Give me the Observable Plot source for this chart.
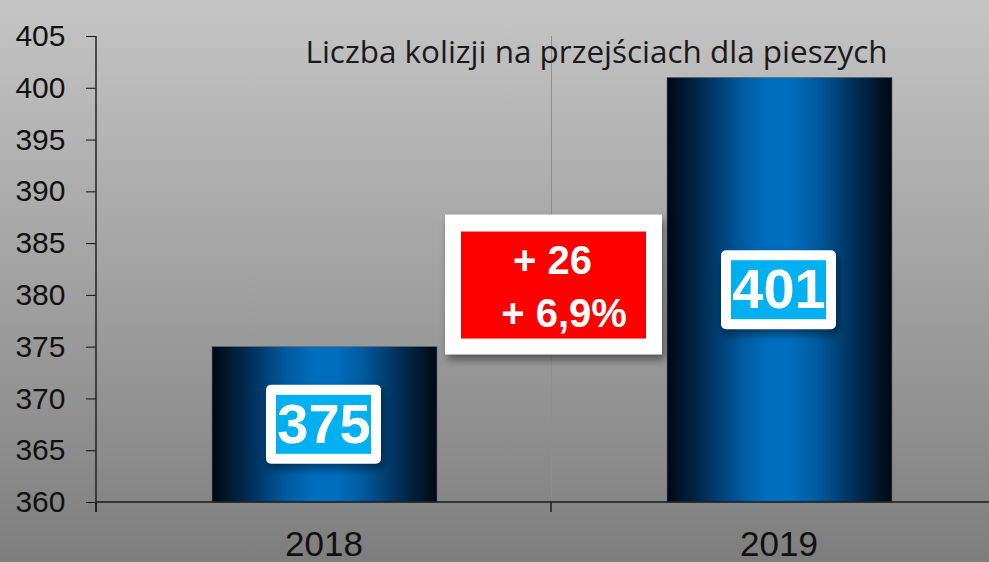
<!DOCTYPE html>
<html>
<head>
<meta charset="utf-8">
<script src="https://cdn.jsdelivr.net/npm/d3@7"></script>
<script src="https://cdn.jsdelivr.net/npm/@observablehq/plot@0.6"></script>
<style>
  html, body { margin: 0; padding: 0; background: #a0a0a0; }
  #chart svg { display: block; }
</style>
</head>
<body>
<div id="chart"></div>
<script>
// ---- data ----
const years = ["2018", "2019"];
const values = [375, 401];
const yTicks = [360, 365, 370, 375, 380, 385, 390, 395, 400, 405];
const title = "Liczba kolizji na przejściach dla pieszych";
const changeAbs = values[1] - values[0];           // 26
const changePct = 6.9;                             // % as printed
const changeLines = ["+ " + changeAbs, "+ " + String(changePct).replace(".", ",") + "%"];
const changeAt = 381;                              // y value where the change box sits

const yMin = yTicks[0], yMax = yTicks[yTicks.length - 1];
const data = years.map((year, i) => ({year, value: values[i]}));

const W = 989, H = 562;

// defs + category gridline (behind bars)
const backMark = (index, scales) => {
  const {x, y} = scales;
  const g = d3.create("svg:g");
  const defs = g.append("defs");
  const lg = defs.append("linearGradient").attr("id", "barGrad")
    .attr("x1", 0).attr("x2", 1).attr("y1", 0).attr("y2", 0);
  [[0, "#000810"], [0.15, "#002a50"], [0.33, "#005a9e"], [0.45, "#006ebe"], [0.55, "#006ebe"],
   [0.67, "#005a9e"], [0.85, "#002a50"], [1, "#000810"]]
    .forEach(([o, c]) => lg.append("stop").attr("offset", o).attr("stop-color", c));
  years.slice(1).forEach(yr => {
    g.append("line").attr("x1", x(yr) + 0.5).attr("x2", x(yr) + 0.5)
      .attr("y1", y(yMax)).attr("y2", y(yMin)).attr("stroke", "#8e8e8e");
  });
  return g.node();
};

// axis lines and category boundary ticks
const axisMark = (index, scales, v, dims) => {
  const {x, y} = scales;
  const g = d3.create("svg:g").attr("stroke", "#1a1a1a").attr("stroke-width", 1.4);
  const y0 = y(yMin);
  g.append("line").attr("x1", dims.marginLeft).attr("x2", dims.width).attr("y1", y0).attr("y2", y0);
  g.append("line").attr("x1", dims.marginLeft).attr("x2", dims.marginLeft).attr("y1", y(yMax)).attr("y2", y0 + 10);
  years.forEach(yr => g.append("line").attr("x1", x(yr)).attr("x2", x(yr)).attr("y1", y0).attr("y2", y0 + 10));
  return g.node();
};

// value label boxes + change box
const boxMark = (index, scales) => {
  const {x, y} = scales;
  const bw = x.bandwidth ? x.bandwidth() : 0;
  const g = d3.create("svg:g");
  data.forEach(d => {
    const cx = x(d.year) + bw / 2, cy = y((yMin + d.value) / 2);
    const b = g.append("g").style("filter", "drop-shadow(2px 5px 4px rgba(0,0,0,0.45))");
    b.append("rect").attr("x", cx - 57.5).attr("y", cy - 39.5).attr("width", 115).attr("height", 79)
      .attr("rx", 5).attr("fill", "#ffffff");
    b.append("rect").attr("x", cx - 47.5).attr("y", cy - 29.5).attr("width", 95).attr("height", 59)
      .attr("fill", "#00b0f0");
  });
  const bx = x(years[1]) + 2.5, by = y(changeAt);
  const r = g.append("g").style("filter", "drop-shadow(3px 5px 4px rgba(0,0,0,0.45))");
  r.append("rect").attr("x", bx - 108.5).attr("y", by - 70).attr("width", 217).attr("height", 140).attr("fill", "#ffffff");
  r.append("rect").attr("x", bx - 92.5).attr("y", by - 53).attr("width", 185).attr("height", 107).attr("fill", "#ff0000");
  const t = g.append("g").attr("fill", "#ffffff").attr("font-family", "Liberation Sans, Arial, sans-serif")
    .attr("font-weight", "bold").attr("font-size", 40).attr("text-anchor", "middle");
  t.append("text").attr("x", bx - 1).attr("y", by - 11).text(changeLines[0]);
  t.append("text").attr("x", bx + 10.5).attr("y", by + 42).text(changeLines[1]);
  return g.node();
};

const chart = Plot.plot({
  width: W,
  height: H,
  marginLeft: 96,
  marginRight: 0,
  marginTop: 36,
  marginBottom: 60,
  style: {
    background: "linear-gradient(#c5c5c5, #7e7e7e)",
    fontFamily: "Liberation Sans, Arial, sans-serif",
    fontSize: "30px",
    color: "#111"
  },
  x: {domain: years, range: [96, 96 + 2 * 455], padding: 0, axis: null, label: null},
  y: {domain: [yMin, yMax], ticks: yTicks.length, tickSize: 10, tickPadding: 21, label: null},
  marks: [
    backMark,
    Plot.text([title], {
      frameAnchor: "top", lineAnchor: "middle", dx: 53.5, dy: 17, fontSize: 31,
      fontFamily: "Open Sans, sans-serif", fill: "#1a1a1a", text: d => d
    }),
    Plot.barY(data, {
      x: "year", y1: yMin, y2: "value", fill: "url(#barGrad)",
      insetLeft: 116, insetRight: 114, stroke: "#5a6470", strokeWidth: 0.6
    }),
    axisMark,
    boxMark,
    Plot.text(data, {
      x: "year", y: d => (yMin + d.value) / 2, text: d => String(d.value),
      fontSize: 56, fontWeight: "bold", fill: "#ffffff",
      fontFamily: "Liberation Sans, Arial, sans-serif"
    }),
    Plot.text(data, {
      x: "year", text: "year", frameAnchor: "bottom", lineAnchor: "top", dy: 29,
      fontSize: 35, fill: "#111", fontFamily: "Liberation Sans, Arial, sans-serif"
    })
  ]
});

document.getElementById("chart").appendChild(chart);

// horizontal compression to match the reference's stretched text
d3.select(chart).selectAll("text").each(function () {
  const s = this.textContent;
  if (s === title) {
    d3.select(this).attr("textLength", 582).attr("lengthAdjust", "spacingAndGlyphs");
  } else if (values.map(String).includes(s) && +this.getAttribute("font-size") === 56) {
    d3.select(this).attr("textLength", 81).attr("lengthAdjust", "spacingAndGlyphs");
  }
});
</script>
</body>
</html>
